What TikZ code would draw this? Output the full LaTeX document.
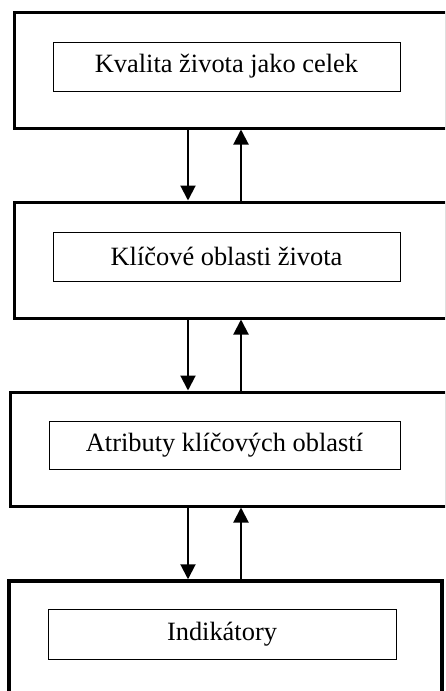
\documentclass[tikz,border=0pt]{standalone}
\usepackage{fontspec}
\setmainfont{Liberation Serif}
\usetikzlibrary{arrows.meta}

\tikzset{
    outer/.style={draw, line width=1.5pt, minimum width=216pt, minimum height=58pt, inner sep=0pt},
    inner/.style={draw, line width=0.5pt, minimum width=173.5pt, minimum height=24.5pt, inner sep=0pt,
        font=\fontsize{13.2pt}{16pt}\selectfont},
    arr/.style={line width=1pt, -{Triangle[length=7.5pt,width=7.5pt]}}
}

\begin{document}
\begin{tikzpicture}[x=0.5pt, y=-0.5pt]
    \useasboundingbox (0,0) rectangle (445,691);
    \clip (0,0) rectangle (445,691);

    \node[outer] (O1) at (230,70) {};
    \node[outer] (O2) at (230,260) {};
    \node[outer, minimum width=218pt, minimum height=57pt] (O3) at (228,449) {};
    \node[outer, minimum width=216.5pt, minimum height=60pt, line width=1.75pt] (O4) at (225.5,641) {};

    \node[inner] (I1) at (226.5,66.5) {Kvalita života jako celek};
    \node[inner] (I2) at (226.5,256.5) {Klíčové oblasti života};
    \node[inner, minimum width=175.5pt, minimum height=24pt] (I3) at (224.5,445) {Atributy klíčových oblastí};
    \node[inner, minimum width=174pt, minimum height=25pt] (I4) at (222,634) {Indikátory};

    % x of the two arrow columns
    \coordinate (L) at (188,0);
    \coordinate (R) at (241,0);

    \foreach \a/\b in {O1/O2, O2/O3, O3/O4} {
        \draw[arr] (\a.south -| L) -- (\b.north -| L);
        \draw[arr] (\b.north -| R) -- (\a.south -| R);
    }

\end{tikzpicture}
\end{document}
